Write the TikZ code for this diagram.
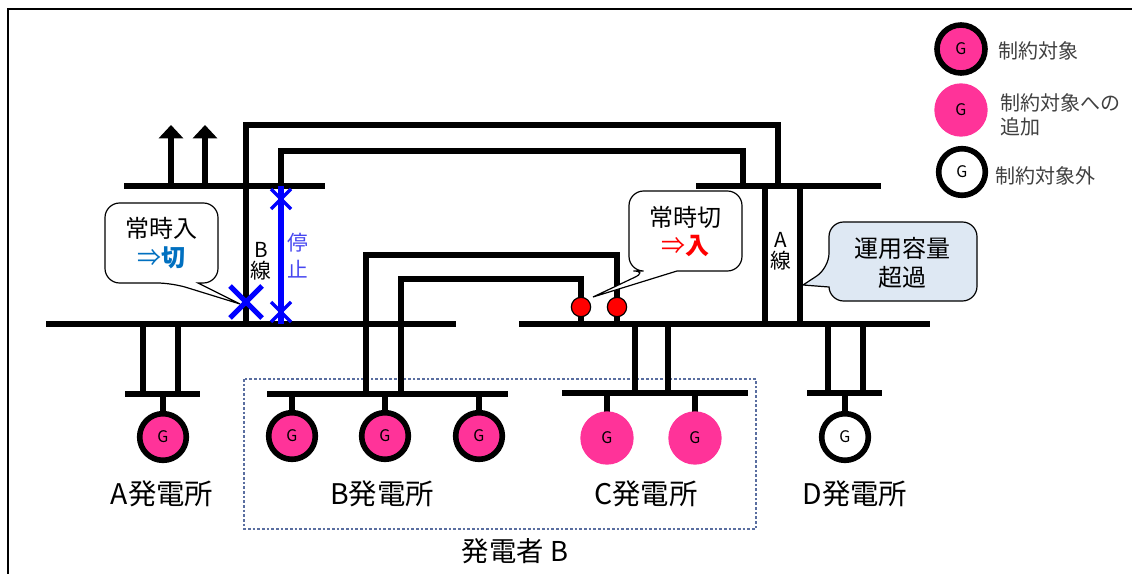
\documentclass[tikz,border=0pt]{standalone}
\usepackage{fontspec}
\setmainfont{Noto Sans CJK JP}
\usetikzlibrary{arrows.meta}
\definecolor{gencol}{RGB}{255,51,153}
\definecolor{stopcol}{RGB}{0,0,255}
\definecolor{stoptxt}{RGB}{70,70,240}
\definecolor{offcol}{RGB}{0,112,192}
\definecolor{boxcol}{RGB}{90,110,160}
\definecolor{notecol}{RGB}{222,232,243}
\definecolor{legtxt}{RGB}{64,64,64}
\tikzset{
    wire/.style={line width=3.8pt},
    genon/.style={circle,draw,line width=4.2pt,fill=gencol,minimum size=35pt,inner sep=0pt,font=\fontsize{12}{14}\selectfont},
    genadd/.style={circle,fill=gencol,minimum size=40pt,inner sep=0pt,font=\fontsize{12}{14}\selectfont},
    genoff/.style={circle,draw,line width=4.2pt,fill=white,minimum size=35pt,inner sep=0pt,font=\fontsize{12}{14}\selectfont},
    breaker/.style={circle,draw,line width=0.9pt,fill=red,minimum size=14.5pt,inner sep=0pt},
    callout/.style={draw,line width=0.9pt,fill=white},
    plant/.style={font=\fontsize{21.3}{24}\selectfont,inner sep=0pt},
    calltxt/.style={font=\fontsize{18}{22}\selectfont,inner sep=0pt},
    linetxt/.style={font=\fontsize{15.5}{16}\selectfont,inner sep=0pt,align=center},
    legend/.style={font=\fontsize{15}{18.5}\selectfont,text=legtxt,inner sep=0pt,anchor=west,align=left},
}
\begin{document}
\begin{tikzpicture}[x=0.75pt,y=-0.75pt]
    \useasboundingbox (0,0) rectangle (1132,574);

    % Cadre
    \draw[line width=1.5pt] (8,574) -- (8,9) -- (1132,9);

    % Groupe
    \draw[boxcol,line width=0.8pt,dash pattern=on 2pt off 1.5pt] (244,379) rectangle (756,529);

    % Barres
    \draw[wire] (46,324) -- (456,324);
    \draw[wire] (519,324) -- (930,324);
    \draw[wire] (124,186) -- (325,186);
    \draw[wire] (696,186) -- (881,186);
    \draw[wire] (125,394) -- (200,394);
    \draw[wire] (267,394) -- (508,394);
    \draw[wire] (562,393) -- (748,393);
    \draw[wire] (807,393) -- (882,393);

    % Sorties
    \foreach \x in {171,205} {
        \draw[wire,-{Triangle[width=18pt,length=10pt]}] (\x,186) -- (\x,125);
    }

    % Lignes
    \draw[wire] (246,324) -- (246,125) -- (778,125) -- (778,186);
    \draw[wire] (281,186) -- (281,151) -- (743,151) -- (743,186);
    \draw[wire] (366,393) -- (366,255) -- (617,255) -- (617,324);
    \draw[wire] (401,393) -- (401,279) -- (581,279) -- (581,324);
    \foreach \x in {765,800} {
        \draw[wire] (\x,186) -- (\x,324);
    }
    \foreach \x/\y in {143/394,178/394,635/393,668/393,828/393,863/393} {
        \draw[wire] (\x,324) -- (\x,\y);
    }

    % Ligne B arretee
    \draw[stopcol,line width=3.8pt] (281,186) -- (281,324);
    \foreach \y in {199,312} {
        \draw[stopcol,line width=2.6pt] (271,\y-10) -- (291,\y+10);
        \draw[stopcol,line width=2.6pt] (271,\y+10) -- (291,\y-10);
    }

    % Bulles
    \draw[callout,rounded corners=11] (105,203) -- (105,283) -- (172,283) [sharp corners] -- (240,304) -- (198,283) [rounded corners=11] -- (218,283) -- (218,203) -- cycle;
    \draw[callout,rounded corners=11] (629,191) -- (629,271) -- (648,271) [sharp corners] -- (593,297) -- (677,271) [rounded corners=11] -- (742,271) -- (742,191) -- cycle;
    \draw[callout,fill=notecol,rounded corners=11] (829,222) -- (829,268) [sharp corners] -- (803,285) -- (829,287) [rounded corners=11] -- (829,301) -- (977,301) -- (977,222) -- cycle;

    \draw[stopcol,line width=3.8pt] (230,286) -- (262,318);
    \draw[stopcol,line width=3.8pt] (230,318) -- (262,286);

    % Disjoncteurs
    \node[breaker] (brkL) at (581,307) {};
    \node[breaker] (brkR) at (617,307) {};

    % Generateurs
    \foreach \name/\x/\y/\kind/\top in {A/163/437/genon/394,Ba/292/436/genon/394,Bb/385/436/genon/394,Bc/479/436/genon/394,Ca/607/438/genadd/393,Cb/695/438/genadd/393,D/845/437/genoff/393} {
        \draw[wire] (\x,\top) -- (\x,\y);
        \node[\kind] (gen\name) at (\x,\y) {G};
    }

    % Legende
    \node[genon,minimum size=36pt] (legOn) at (961,49) {G};
    \node[genadd] (legAdd) at (961,110) {G};
    \node[genoff,minimum size=35pt] (legOff) at (962,172) {G};
    \node[legend] (txtOn) at (998,51) {制約対象};
    \node[legend] (txtAdd) at (1000,115) {制約対象への\\追加};
    \node[legend] (txtOff) at (995,176) {制約対象外};

    % Textes
    \node[plant] (nameA) at (162,494) {A発電所};
    \node[plant] (nameB) at (382,494) {B発電所};
    \node[plant] (nameC) at (646,494) {C発電所};
    \node[plant] (nameD) at (855,494) {D発電所};
    \node[plant,font=\fontsize{20.5}{24}\selectfont] (owner) at (515,551) {発電者 B};

    \node[calltxt] (alwaysOn) at (161,228) {常時入};
    \node[calltxt,text=offcol] (toOff) at (161,258) {⇒\textbf{切}};
    \node[calltxt] (alwaysOff) at (685,217) {常時切};
    \node[calltxt,text=red] (toOn) at (685,246) {⇒\textbf{入}};
    \node[calltxt,align=center] (capacity) at (902,263) {運用容量\\超過};

    \node[linetxt] (lineB) at (261,261) {B\\線};
    \node[linetxt] (lineA) at (781,251) {A\\線};
    \node[linetxt,text=stoptxt,font=\fontsize{15.5}{20}\selectfont] (stopTxt) at (298,256) {停\\止};
\end{tikzpicture}
\end{document}
